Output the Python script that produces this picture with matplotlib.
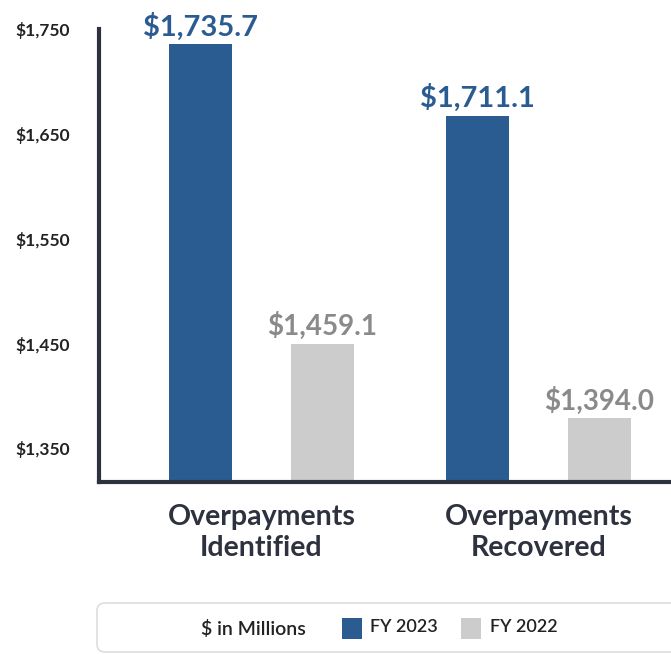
import matplotlib
matplotlib.use("Agg")
import matplotlib.pyplot as plt
from matplotlib.patches import FancyBboxPatch, Rectangle
import numpy as np

plt.rcParams['font.family'] = ['Lato', 'DejaVu Sans']

categories = ["Overpayments\nIdentified", "Overpayments\nRecovered"]
series_names = ["FY 2023", "FY 2022"]
# bar heights as drawn in the picture ($ in millions)
fy2023_heights = [1735.7, 1667.4]
fy2022_heights = [1450.0, 1378.7]
# value labels as printed
fy2023_labels = ["$1,735.7", "$1,711.1"]
fy2022_labels = ["$1,459.1", "$1,394.0"]
ytick_values = [1350, 1450, 1550, 1650, 1750]
ytick_labels = ["$1,350", "$1,450", "$1,550", "$1,650", "$1,750"]
unit_label = "$ in Millions"

blue = "#2b5c91"
gray = "#cccccc"
gray_text = "#8a8a8a"
dark = "#2d323e"

fig = plt.figure(figsize=(6.71, 6.54), dpi=100)
ax = fig.add_axes([99/671, 1-482/654, 1-99/671 + 0.01, (482-29)/654])

x = np.arange(len(categories))
w = 0.2274
off = 0.2202
b1 = ax.bar(x - off, fy2023_heights, w, color=blue, zorder=2)
b2 = ax.bar(x + off, fy2022_heights, w, color=gray, zorder=2)

for rect, lab in zip(b1, fy2023_labels):
    ax.annotate(lab, (rect.get_x() + rect.get_width()/2, rect.get_height()),
                xytext=(0, 12.5), textcoords="offset points", ha="center", va="center",
                fontsize=21, fontweight="bold", color=blue)
for rect, lab in zip(b2, fy2022_labels):
    ax.annotate(lab, (rect.get_x() + rect.get_width()/2, rect.get_height()),
                xytext=(0, 12.5), textcoords="offset points", ha="center", va="center",
                fontsize=20, fontweight="bold", color=gray_text)

ax.set_ylim(1317.9, 1748)
ax.set_xlim(-0.5866, 1.478 + 0.01 / (1 - 99/671) * 2.065)

ax.set_yticks(ytick_values)
ax.set_yticklabels(ytick_labels, fontsize=12.5, fontweight="bold", color="#222222")
ax.tick_params(axis="y", length=0, pad=21)
ax.set_xticks(x)
ax.set_xticklabels(categories, fontsize=20.5, fontweight="bold", color=dark, linespacing=1.25)
ax.tick_params(axis="x", length=0, pad=16)

for s in ["top", "right"]:
    ax.spines[s].set_visible(False)
for s in ["left", "bottom"]:
    ax.spines[s].set_color(dark)
    ax.spines[s].set_linewidth(3)

# legend box
box = FancyBboxPatch((97/671, 1-652/654), (680-97)/671, (652-603)/654,
                     boxstyle="round,pad=0,rounding_size=0.012",
                     transform=fig.transFigure, facecolor="white",
                     edgecolor="#dddddd", linewidth=1.2)
fig.patches.append(box)
ly = 1 - 629/654
fig.text(253/671, ly, unit_label, ha="center", va="center", fontsize=14,
         fontweight="semibold", color="#222222")
for (sx, tx), col, name in zip([(342, 370), (461, 490)], [blue, gray], series_names):
    fig.patches.append(Rectangle((sx/671, 1-639/654), 20/671, 21/654,
                                 transform=fig.transFigure, facecolor=col, edgecolor="none"))
    fig.text(tx/671, 1-627/654, name, ha="left", va="center", fontsize=13,
             fontweight="semibold", color="#222222")

fig.savefig("out.png", dpi=100)
